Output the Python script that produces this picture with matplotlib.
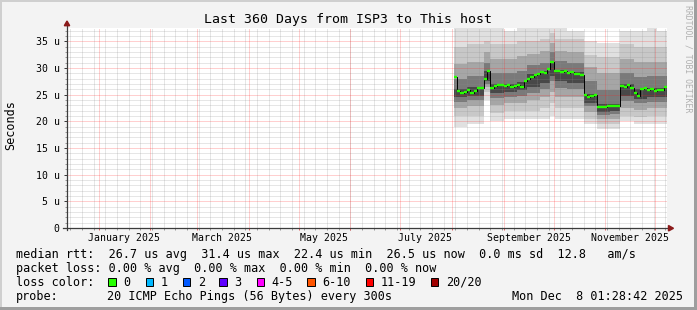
import datetime as dt
import numpy as np
import matplotlib
matplotlib.use("Agg")
import matplotlib.pyplot as plt
from matplotlib.patches import Rectangle, Polygon
from matplotlib.transforms import blended_transform_factory

# ---------------------------------------------------------------------------
# Data
# ---------------------------------------------------------------------------
START = dt.datetime(2024, 12, 13, 1, 28, 42)   # graph covers 360 days up to Dec 8 2025
SPAN_DAYS = 360
Y_MAX = 37.5

# median rtt in microseconds, one value every 2 days starting at day 232
median_days = list(range(232, 360, 2))
median_us = [
    28.4, 25.6, 25.4, 25.5, 25.8, 25.3, 25.6, 26.2, 26.3,
    28.0, 29.4, 26.3, 26.6, 26.9, 26.9, 26.7, 26.8, 26.5, 26.7,
    26.9, 26.5, 27.5, 27.9, 28.4, 28.7, 28.8, 29.2, 29.0, 29.8,
    31.2, 29.5, 29.4, 29.2, 29.4, 29.1, 29.3, 28.8, 28.9, 28.6,
    25.0, 24.5, 24.7, 24.9, 22.6, 22.6, 22.7, 22.8, 22.8, 22.9,
    22.9, 26.7, 26.4, 26.8, 26.3, 25.4, 24.8, 26.0, 26.2, 25.9,
    26.0, 25.7, 25.8, 25.9, 26.4,
]

# smoke (ping spread) per segment: outer band 0 ... inner band 4
smoke_days = [232, 240, 250, 254, 262, 270, 276, 284, 290, 293,
              300, 310, 318, 326, 332, 340, 348, 354]
smoke_lo0 = [19.0, 19.5, 24.0, 20.0, 20.5, 20.5, 20.5, 20.5, 21.0, 20.5,
             20.5, 19.5, 18.5, 18.5, 20.0, 19.5, 19.5, 19.5]
smoke_lo1 = [21.0, 21.0, 25.5, 21.5, 22.0, 22.0, 22.0, 22.5, 23.5, 22.5,
             22.5, 20.5, 19.5, 19.5, 21.0, 20.8, 21.0, 21.0]
smoke_lo2 = [22.5, 22.8, 26.5, 23.0, 23.5, 23.5, 24.0, 24.5, 25.5, 24.5,
             24.5, 21.8, 20.5, 20.5, 22.5, 22.2, 22.5, 22.5]
smoke_lo3 = [23.6, 24.0, 27.0, 24.3, 24.6, 24.8, 25.4, 26.0, 27.5, 26.2,
             26.0, 22.8, 21.2, 21.3, 23.8, 23.4, 23.6, 23.7]
smoke_lo4 = [24.5, 24.8, 27.5, 25.3, 25.5, 25.8, 26.5, 27.2, 28.5, 27.5,
             27.2, 23.5, 21.7, 21.9, 24.8, 24.2, 24.5, 24.6]
smoke_hi4 = [26.0, 26.5, 29.5, 27.0, 27.0, 27.3, 28.8, 29.5, 31.0, 29.7,
             29.3, 25.2, 23.2, 23.3, 27.0, 26.0, 26.2, 26.3]
smoke_hi3 = [28.0, 28.5, 31.0, 29.0, 29.0, 29.5, 30.5, 31.0, 33.0, 31.3,
             31.0, 27.5, 25.8, 25.8, 29.0, 28.3, 28.5, 28.5]
smoke_hi2 = [30.8, 31.2, 33.0, 31.7, 31.7, 32.2, 32.7, 33.2, 34.7, 33.2,
             33.0, 30.2, 29.0, 29.0, 31.7, 31.2, 31.2, 31.2]
smoke_hi1 = [34.0, 34.5, 35.0, 34.5, 34.5, 35.0, 35.0, 35.5, 36.5, 35.5,
             35.5, 32.5, 32.0, 32.0, 34.5, 34.0, 34.0, 34.0]
smoke_hi0 = [37.5, 37.5, 37.5, 37.5, 37.0, 37.5, 37.5, 37.5, 37.5, 37.5,
             37.0, 35.0, 34.7, 34.7, 37.0, 37.0, 37.5, 37.0]

y_ticks = [0, 5, 10, 15, 20, 25, 30, 35]
y_tick_labels = ["0", "5 u", "10 u", "15 u", "20 u", "25 u", "30 u", "35 u"]
month_labels = ["January 2025", "March 2025", "May 2025",
                "July 2025", "September 2025", "November 2025"]
label_months = [(2025, 1), (2025, 3), (2025, 5), (2025, 7), (2025, 9), (2025, 11)]

loss_labels = ["0", "1", "2", "3", "4-5", "6-10", "11-19", "20/20"]
loss_colors = ["#26ff00", "#00b8ff", "#0059ff", "#5e00ff",
               "#ff00ff", "#ff5500", "#ff0000", "#a00000"]

# ---------------------------------------------------------------------------
# Layout (pixels)
# ---------------------------------------------------------------------------
W, H = 697, 310
PL, PR, PT, PB = 67, 667, 28, 228
MONO = "DejaVu Sans Mono"
AXIS_COL = "#3c3c3c"
ARROW_COL = "#8b1a1a"


def day_of(d):
    return (d - START).total_seconds() / 86400.0


def fx(x):
    return x / W


def fy(y):
    return 1 - y / H


fig = plt.figure(figsize=(W / 100, H / 100), dpi=100, facecolor="#f3f3f3")
ax = fig.add_axes([fx(PL), fy(PB), (PR - PL) / W, (PB - PT) / H])
ax.set_facecolor("white")
ax.set_xlim(0, SPAN_DAYS)
ax.set_ylim(0, Y_MAX)
for s in ax.spines.values():
    s.set_visible(False)

# smoke
band_cols = ["#e0e0e0", "#c8c8c8", "#a6a6a6", "#7a7a7a", "#484848"]
sx = smoke_days + [SPAN_DAYS]
lows = [smoke_lo0, smoke_lo1, smoke_lo2, smoke_lo3, smoke_lo4]
highs = [smoke_hi0, smoke_hi1, smoke_hi2, smoke_hi3, smoke_hi4]
for lo, hi, c in zip(lows, highs, band_cols):
    ax.fill_between(sx, lo + [lo[-1]], hi + [hi[-1]], step="post",
                    color=c, lw=0, zorder=1)

# grid (rrdtool draws it over the graph)
dots = (0, (1, 1))
grid_kw = dict(lw=0.72, ls=dots, zorder=3)
for v in range(1, 38):
    if v % 5:
        ax.axhline(v, color="#8c8c8c", alpha=0.42, **grid_kw)
week = dt.datetime(2024, 12, 15)
weeks = []
while week < START + dt.timedelta(days=SPAN_DAYS):
    weeks.append(day_of(week))
    week += dt.timedelta(days=7)
months = [day_of(dt.datetime(2025, m, 1)) for m in range(1, 13)]
for d in weeks:
    ax.axvline(d, color="#8c8c8c", alpha=0.42, **grid_kw)
for v in range(5, 38, 5):
    ax.axhline(v, color="#ff2020", alpha=0.42, **grid_kw)
for d in months:
    ax.axvline(d, color="#ff2020", alpha=0.42, **grid_kw)

# median line: black steps + loss-coloured dashes
md = median_days + [SPAN_DAYS]
ax.step(md, median_us + [median_us[-1]], where="post", color="black",
        lw=0.7, zorder=4)
ax.hlines(median_us, median_days, md[1:], color=loss_colors[0], lw=1.7, zorder=5)

# ticks and labels
trans = blended_transform_factory(ax.transData, ax.transAxes)
ax.vlines(weeks, -0.012, 0, color="#9a9a9a", lw=0.72, transform=trans, clip_on=False)
ax.vlines(months, -0.012, 0, color="#e06060", lw=0.72, transform=trans, clip_on=False)
ax.set_yticks(y_ticks, y_tick_labels)
ax.set_yticks([v for v in range(1, 38) if v % 5], minor=True)
ax.tick_params(axis="y", which="major", length=2.4, width=0.72, color=AXIS_COL,
               pad=3.0, labelsize=7.1, labelfontfamily=MONO)
ax.tick_params(axis="y", which="minor", length=1.2, width=0.72, color="#9a9a9a")
label_days = [day_of(dt.datetime(y, m, 1)) + 15 for y, m in label_months]
ax.set_xticks(label_days, month_labels)
ax.tick_params(axis="x", which="major", length=0, pad=3.6, labelsize=7.1,
               labelfontfamily=MONO)

# axis lines with arrows
ax.plot([0, 0], [-0.012, (PB - 25) / 200], color=AXIS_COL, lw=0.9,
        transform=ax.transAxes, clip_on=False, zorder=6)
ax.plot([-4 / 600, (669 - PL) / 600], [0, 0], color=AXIS_COL, lw=0.9,
        transform=ax.transAxes, clip_on=False, zorder=6)


def af(x, y):
    return ((x - PL) / 600, (PB - y) / 200)


ax.add_patch(Polygon([af(64.3, 25.7), af(69.7, 25.7), af(67, 21)], closed=True,
                     color=ARROW_COL, transform=ax.transAxes, clip_on=False, zorder=7))
ax.add_patch(Polygon([af(668.5, 225.5), af(668.5, 231), af(673.5, 228.3)], closed=True,
                     color=ARROW_COL, transform=ax.transAxes, clip_on=False, zorder=7))

# title, axis label, watermark
fig.text(fx(348.5), fy(19.5), "Last 360 Days from ISP3 to This host", ha="center",
         va="center", family=MONO, fontsize=9.5, color="black")
fig.text(fx(10.5), fy(125), "Seconds", rotation=90, ha="center", va="center",
         family=MONO, fontsize=8.5)
fig.text(fx(688), fy(59), "RRDTOOL / TOBI OETIKER", rotation=270, ha="center",
         va="center", family=MONO, fontsize=5.9, color="#b0b0b0")

# legend
LEG = 8.5
fig.text(fx(16), fy(254.5),
         "median rtt:  26.7 us avg  31.4 us max  22.4 us min  26.5 us now  0.0 ms sd  12.8   am/s",
         family=MONO, fontsize=LEG, va="center")
fig.text(fx(16), fy(268.5),
         "packet loss: 0.00 % avg  0.00 % max  0.00 % min  0.00 % now",
         family=MONO, fontsize=LEG, va="center")
fig.text(fx(16), fy(282.3), "loss color:", family=MONO, fontsize=LEG, va="center")
box_x = [108, 145.7, 182.7, 219.3, 256.7, 307.3, 365.7, 430.7]
for bx, lab, col in zip(box_x, loss_labels, loss_colors):
    fig.add_artist(Rectangle((fx(bx), fy(286.3)), 7.5 / W, 8 / H, transform=fig.transFigure,
                             facecolor=col, edgecolor="black", lw=0.7))
    fig.text(fx(bx + 15), fy(282.3), lab, family=MONO, fontsize=LEG, va="center")
fig.text(fx(16), fy(296.3), "probe:", family=MONO, fontsize=LEG, va="center")
fig.text(fx(107), fy(296.3), "20 ICMP Echo Pings (56 Bytes) every 300s",
         family=MONO, fontsize=LEG, va="center")
fig.text(fx(512.5), fy(296.3), "Mon Dec  8 01:28:42 2025",
         family=MONO, fontsize=LEG, va="center")

# 3d-ish border of the canvas
fig.add_artist(Rectangle((0, fy(2)), 1, 2 / H, transform=fig.transFigure,
                         facecolor="#cfcfcf", lw=0))
fig.add_artist(Rectangle((0, 0), 2 / W, 1, transform=fig.transFigure,
                         facecolor="#cfcfcf", lw=0))
fig.add_artist(Rectangle((0, 0), 1, 3 / H, transform=fig.transFigure,
                         facecolor="#9e9e9e", lw=0))
fig.add_artist(Rectangle((fx(W - 3), 0), 3 / W, 1, transform=fig.transFigure,
                         facecolor="#9e9e9e", lw=0))

fig.savefig("out.png", dpi=100, facecolor=fig.get_facecolor())
